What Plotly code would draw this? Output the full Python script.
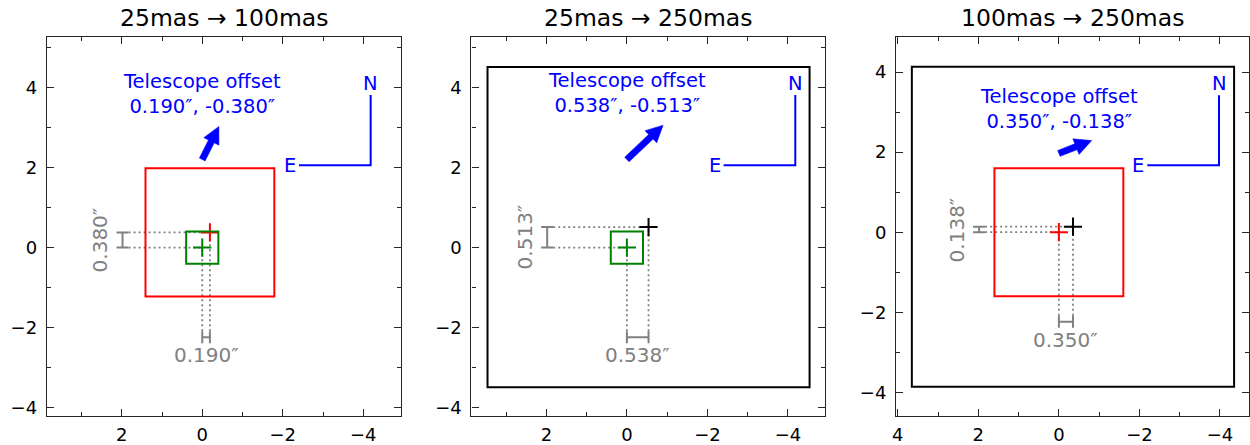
import numpy as np
import plotly.graph_objects as go

FONT = "DejaVu Sans"
GRAY = "#808080"
BLUE = "#0000ff"
AXIS = "#262626"

# field of view of each spaxel scale (arcsec) and the colour it is drawn in
fov_sizes = {"25mas": 0.8, "100mas": 3.2, "250mas": 8.0}
fov_colors = {"25mas": "#008000", "100mas": "#ff0000", "250mas": "#000000"}

# one panel per pair of scales
panel_from = ["25mas", "25mas", "100mas"]
panel_to = ["100mas", "250mas", "250mas"]
offset_ra = [0.190, 0.538, 0.350]
offset_dec = [-0.380, -0.513, -0.138]

x_ranges = [[3.86, -4.93], [3.86, -4.93], [4.04, -4.72]]
y_ranges = [[-4.21, 5.26], [-4.21, 5.26], [-4.60, 4.88]]
arrow_tail_y = [2.2, 2.2, 1.97]

W, H = 1250, 445
x_pix = [[43, 398], [469, 824], [895, 1249]]
y_pix = [37.3, 420]

bar_x, bar_y, cap = 1.98, -2.24, 0.15

fig = go.Figure()
shapes, annotations = [], []


def line(i, xs, ys, color, width, dash=None):
    fig.add_trace(go.Scatter(
        x=xs, y=ys, mode="lines", xaxis=f"x{i+1}", yaxis=f"y{i+1}",
        line=dict(color=color, width=width, dash=dash),
        hoverinfo="skip", showlegend=False))


for i in range(3):
    xa, ya = f"x{i+1}", f"y{i+1}"
    ra, dec = offset_ra[i], offset_dec[i]
    tx, ty = -ra, -dec  # where the second pointing lands
    f_name, t_name = panel_from[i], panel_to[i]

    # the two fields of view
    for name, cx, cy in [(f_name, 0, 0), (t_name, tx, ty)]:
        half = fov_sizes[name] / 2
        shapes.append(dict(type="rect", xref=xa, yref=ya,
                           x0=cx - half, x1=cx + half, y0=cy - half, y1=cy + half,
                           line=dict(color=fov_colors[name], width=2), layer="above"))

    # dotted guides and dimension bars
    dots = "2px,3px"
    line(i, [bar_x - cap, 0, None, bar_x - cap, tx], [0, 0, None, ty, ty], GRAY, 1.8, dots)
    line(i, [0, 0, None, tx, tx], [bar_y + cap, 0, None, bar_y + cap, ty], GRAY, 1.8, dots)
    line(i, [bar_x - cap, bar_x + cap, None, bar_x, bar_x, None, bar_x - cap, bar_x + cap],
         [0, 0, None, 0, ty, None, ty, ty], GRAY, 2)
    line(i, [0, 0, None, 0, tx, None, tx, tx],
         [bar_y - cap, bar_y + cap, None, bar_y, bar_y, None, bar_y - cap, bar_y + cap], GRAY, 2)
    annotations.append(dict(xref=xa, yref=ya, x=bar_x + 0.55, y=ty / 2, text=f"{abs(dec):.3f}″",
                            textangle=-90, showarrow=False, font=dict(size=20, color=GRAY)))
    annotations.append(dict(xref=xa, yref=ya, x=tx / 2, y=bar_y - 0.45, text=f"{ra:.3f}″",
                            showarrow=False, font=dict(size=20, color=GRAY)))

    # pointing centres
    for name, cx, cy in [(f_name, 0, 0), (t_name, tx, ty)]:
        fig.add_trace(go.Scatter(
            x=[cx], y=[cy], mode="markers", xaxis=xa, yaxis=ya,
            marker=dict(symbol="cross-thin", size=13,
                        line=dict(color=fov_colors[name], width=2)),
            hoverinfo="skip", showlegend=False))

    # telescope offset arrow
    vec = np.array([tx, ty])
    norm = np.hypot(ra, dec)
    u = vec / norm
    p = np.array([-u[1], u[0]])
    tail = np.array([0.0, arrow_tail_y[i]])
    head = tail + u * (0.5 + norm)
    base = head - u * 0.42
    w, hw = 0.08, 0.21
    pts = [tail + p * w, base + p * w, base + p * hw, head,
           base - p * hw, base - p * w, tail - p * w, tail + p * w]
    fig.add_trace(go.Scatter(
        x=[q[0] for q in pts], y=[q[1] for q in pts], mode="lines", fill="toself",
        fillcolor=BLUE, line=dict(color=BLUE, width=0.5), xaxis=xa, yaxis=ya,
        hoverinfo="skip", showlegend=False))
    annotations.append(dict(xref=xa, yref=ya, x=0, y=head[1] + 0.8,
                            text=f"Telescope offset<br>{ra:.3f}″, {dec:.3f}″",
                            showarrow=False, font=dict(size=19.5, color=BLUE)))

    # compass
    xr, yr = x_ranges[i], y_ranges[i]
    cx = xr[0] + 0.915 * (xr[1] - xr[0])
    cy = yr[0] + 0.662 * (yr[1] - yr[0])
    line(i, [cx, cx, cx + 1.78], [cy + 1.75, cy, cy], BLUE, 2)
    annotations.append(dict(xref=xa, yref=ya, x=cx, y=cy + 2.05, text="N",
                            showarrow=False, font=dict(size=19.5, color=BLUE)))
    annotations.append(dict(xref=xa, yref=ya, x=cx + 2.0, y=cy, text="E",
                            showarrow=False, font=dict(size=19.5, color=BLUE)))

    # panel title
    annotations.append(dict(xref="paper", yref="paper",
                            x=(x_pix[i][0] + x_pix[i][1]) / 2 / W, y=1 - 18 / H,
                            text=f"{f_name} → {t_name}", showarrow=False,
                            xanchor="center", yanchor="middle",
                            font=dict(size=23.5, color="black")))

    axis_common = dict(showline=True, linecolor=AXIS, linewidth=1.3, mirror="allticks",
                       ticks="inside", ticklen=7, tickwidth=1.3, tickcolor=AXIS,
                       dtick=2, tick0=0, showgrid=False, zeroline=False,
                       tickfont=dict(size=18, color="black"),
                       minor=dict(dtick=1, ticks="inside", ticklen=4, tickwidth=1,
                                  tickcolor=AXIS, showgrid=False))
    fig.update_layout(**{
        f"xaxis{i+1}": dict(axis_common, range=xr, anchor=ya, ticklabelstandoff=2,
                            domain=[x_pix[i][0] / W, x_pix[i][1] / W]),
        f"yaxis{i+1}": dict(axis_common, range=yr, anchor=xa, ticklabelstandoff=5,
                            domain=[1 - y_pix[1] / H, 1 - y_pix[0] / H]),
    })

fig.update_layout(
    width=W, height=H,
    margin=dict(l=0, r=0, t=0, b=0),
    paper_bgcolor="white", plot_bgcolor="white",
    font=dict(family=FONT, color="black"),
    shapes=shapes, annotations=annotations,
    showlegend=False,
)

fig.write_html("out.html", config={"displayModeBar": False},
               post_script="document.body.style.margin='0px';")
